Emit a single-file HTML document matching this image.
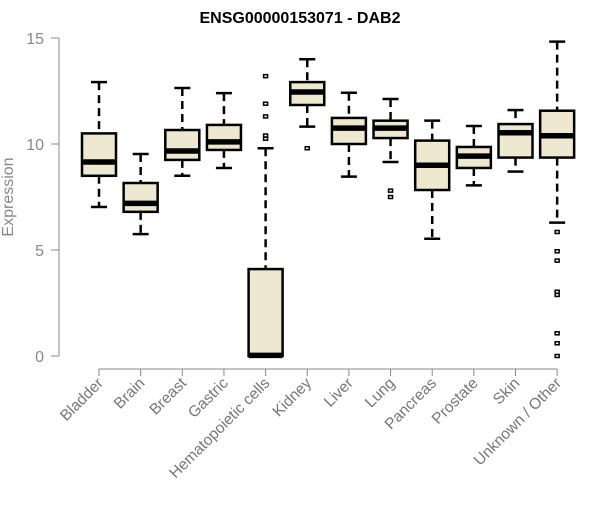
<!DOCTYPE html>
<html><head><meta charset="utf-8"><style>
body{margin:0;background:#fff}
svg text{font-family:"Liberation Sans",sans-serif}
</style></head><body>
<svg id="c" width="600" height="500">
<text x="300" y="23" text-anchor="middle" font-weight="bold" font-size="16" fill="#000">ENSG00000153071 - DAB2</text>
<text transform="translate(13,197) rotate(-90)" text-anchor="middle" font-size="16" fill="#888">Expression</text>
<g id="g"></g>
</svg>
<script>
const categories=["Bladder","Brain","Breast","Gastric","Hematopoietic cells","Kidney","Liver","Lung","Pancreas","Prostate","Skin","Unknown / Other"];
const whiskerLow=[7.03,5.75,8.5,8.87,0,10.82,8.46,9.15,5.53,8.05,8.7,6.29];
const q1=[8.5,6.8,9.25,9.72,0,11.84,10.0,10.28,7.83,8.87,9.36,9.36];
const median=[9.15,7.2,9.67,10.1,0.03,12.45,10.75,10.75,9.0,9.43,10.53,10.39];
const q3=[10.5,8.16,10.66,10.9,4.1,12.92,11.23,11.1,10.16,9.86,10.94,11.57];
const whiskerHigh=[12.92,9.53,12.64,12.4,9.8,14.0,12.42,12.12,11.1,10.85,11.6,14.83];
const outliers=[[],[],[],[],[13.2,11.9,11.3,10.4,10.25],[9.8],[],[7.8,7.5],[],[],[],[5.85,4.94,4.5,3.03,2.88,1.07,0.6,0]];
const yTicks=[0,5,10,15];
const ns="http://www.w3.org/2000/svg",g=document.getElementById('g');
const y=v=>356-v*21.2, x=i=>99+i*41.65;
function mk(t,a,p){const e=document.createElementNS(ns,t);for(const k in a)e.setAttribute(k,a[k]);(p||g).appendChild(e);return e;}
let ax=mk('line',{x1:59,x2:59,y1:y(15),y2:y(0),stroke:'#888'});


yTicks.forEach(v=>{
 let t=mk('line',{x1:51,x2:59,y1:y(v),y2:y(v),stroke:'#888'});
 
 
 let l=mk('text',{x:44,y:y(v)+6,'text-anchor':'end','font-size':16,fill:'#888'});l.textContent=v;
 
 
});
let xa=mk('line',{x1:x(0),x2:x(categories.length-1),y1:369,y2:369,stroke:'#888'});


categories.forEach((c,i)=>{
 const cx=x(i);
 let t=mk('line',{x1:cx,x2:cx,y1:369,y2:376,stroke:'#888'});
 
 
 let l=mk('text',{transform:`translate(${cx+5},${384}) rotate(-45)`,'text-anchor':'end','font-size':15.5,fill:'#777'});l.textContent=c;
 
 
 const bg=mk('g',{});
 
 
 mk('line',{x1:cx,x2:cx,y1:y(whiskerHigh[i]),y2:y(q3[i]),stroke:'#000','stroke-width':2.5,'stroke-dasharray':'8,5'},bg);
 mk('line',{x1:cx,x2:cx,y1:y(q1[i]),y2:y(whiskerLow[i]),stroke:'#000','stroke-width':2.5,'stroke-dasharray':'8,5'},bg);
 mk('line',{x1:cx-8,x2:cx+8,y1:y(whiskerHigh[i]),y2:y(whiskerHigh[i]),stroke:'#000','stroke-width':2.5},bg);
 mk('line',{x1:cx-8,x2:cx+8,y1:y(whiskerLow[i]),y2:y(whiskerLow[i]),stroke:'#000','stroke-width':2.5},bg);
 mk('rect',{x:cx-17,y:y(q3[i]),width:34,height:Math.max(0.5,y(q1[i])-y(q3[i])),fill:'#ede8cf',stroke:'#000','stroke-width':2.5},bg);
 mk('line',{x1:cx-17,x2:cx+17,y1:y(median[i]),y2:y(median[i]),stroke:'#000','stroke-width':5.5},bg);
 outliers[i].forEach(v=>{
  let o=mk('rect',{x:cx-2,y:y(v)-1.5,width:4,height:3,fill:'none',stroke:'#000','stroke-width':1.5},bg);
  
  
 });
});
</script>
</body></html>
